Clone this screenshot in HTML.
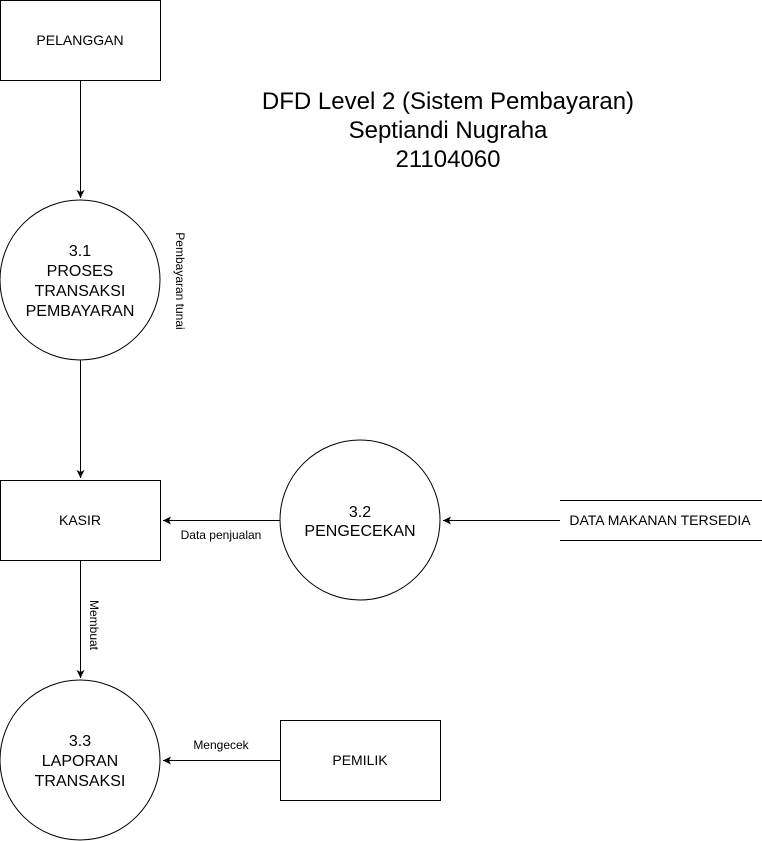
<!DOCTYPE html>
<html><head><meta charset="utf-8"><style>html,body{margin:0;padding:0;background:#fff}svg{display:block}</style></head>
<body>
<svg width="762" height="841" viewBox="0 0 762 841" xmlns="http://www.w3.org/2000/svg" font-family="Liberation Sans, Arial, sans-serif">
<defs><marker id="a" markerWidth="10" markerHeight="10" refX="8" refY="4" orient="auto" markerUnits="userSpaceOnUse"><path d="M0,0 L8,4 L0,8 L2,4 Z" fill="#000"/></marker></defs>
<g fill="#fff" stroke="#000" stroke-width="1">
<rect x="0.5" y="0.5" width="160" height="80"/>
<circle cx="80" cy="280" r="80"/>
<rect x="0.5" y="480.5" width="160" height="80"/>
<circle cx="360" cy="520" r="80"/>
<circle cx="80" cy="760" r="80"/>
<rect x="280.5" y="720.5" width="160" height="80"/>
</g>
<g stroke="#000" stroke-width="1" fill="none">
<line x1="560" y1="500.5" x2="762" y2="500.5"/>
<line x1="560" y1="540.5" x2="762" y2="540.5"/>
<line x1="80.5" y1="81" x2="80.5" y2="198" marker-end="url(#a)"/>
<line x1="80.5" y1="360" x2="80.5" y2="478" marker-end="url(#a)"/>
<line x1="80.5" y1="561" x2="80.5" y2="678" marker-end="url(#a)"/>
<line x1="280" y1="520.5" x2="163" y2="520.5" marker-end="url(#a)"/>
<line x1="560" y1="520.5" x2="443" y2="520.5" marker-end="url(#a)"/>
<line x1="280" y1="760.5" x2="163" y2="760.5" marker-end="url(#a)"/>
</g>
<g font-size="14" text-anchor="middle" fill="#000">
<text x="80" y="45">PELANGGAN</text>
<text x="80" y="525">KASIR</text>
<text x="660" y="525">DATA MAKANAN TERSEDIA</text>
<text x="360" y="765">PEMILIK</text>
</g>
<g font-size="16" text-anchor="middle" fill="#000">
<text x="80" y="256">3.1</text>
<text x="80" y="276">PROSES</text>
<text x="80" y="296">TRANSAKSI</text>
<text x="80" y="316">PEMBAYARAN</text>
<text x="360" y="517">3.2</text>
<text x="360" y="536">PENGECEKAN</text>
<text x="80" y="746">3.3</text>
<text x="80" y="766">LAPORAN</text>
<text x="80" y="786">TRANSAKSI</text>
</g>
<g font-size="24" text-anchor="middle" fill="#000">
<text x="448" y="109">DFD Level 2 (Sistem Pembayaran)</text>
<text x="448" y="138">Septiandi Nugraha</text>
<text x="448" y="167">21104060</text>
</g>
<g font-size="12" text-anchor="middle" fill="#000">
<text x="221" y="539">Data penjualan</text>
<text x="221" y="749">Mengecek</text>
<text transform="translate(176,281) rotate(90)">Pembayaran tunai</text>
<text transform="translate(90,625) rotate(90)">Membuat</text>
</g>
</svg>
</body></html>
